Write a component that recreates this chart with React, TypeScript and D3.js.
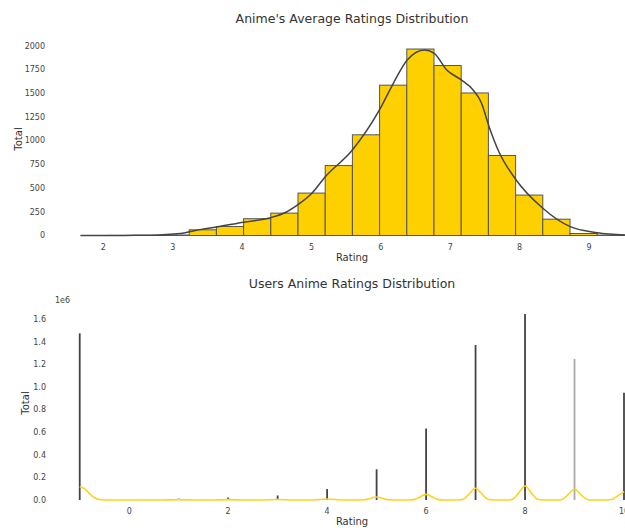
import React from 'react';
import * as d3 from 'd3';

// Top histogram: anime average ratings (20 bins starting at 1.67, width 0.392)
const binStart = 1.67;
const binWidth = 0.392;
const animeCounts = [0, 1, 2, 5, 60, 95, 177, 236, 447, 737, 1061, 1584, 1965, 1791, 1502, 843, 426, 172, 21, 4];

// KDE curve: [rating, density scaled to counts]
const animeKde: [number, number][] = [
  [1.67, 0], [2.3, 1], [2.68, 3], [3.11, 20], [3.39, 62], [3.63, 90], [4.02, 140],
  [4.41, 188], [4.64, 248], [4.84, 343], [5.0, 440], [5.2, 620], [5.59, 901],
  [5.98, 1323], [6.18, 1604], [6.38, 1850], [6.63, 1955], [6.77, 1920], [6.95, 1744],
  [7.16, 1639], [7.33, 1533], [7.45, 1397], [7.56, 1147], [7.71, 869], [7.95, 585],
  [8.33, 290], [8.73, 93], [9.12, 30], [9.52, 5],
];

const animeXTicks = [2, 3, 4, 5, 6, 7, 8, 9];
const animeYTicks = [0, 250, 500, 750, 1000, 1250, 1500, 1750, 2000];

// Bottom histogram: user ratings (-1 = watched, not rated)
const userRatings = [-1, 1, 2, 3, 4, 5, 6, 7, 8, 9, 10];
const userCounts = [1.476e6, 0.012e6, 0.022e6, 0.04e6, 0.097e6, 0.272e6, 0.632e6, 1.372e6, 1.647e6, 1.249e6, 0.95e6];

const userKde: [number, number][] = [
  [-1, 0.118e6], [-0.9, 0.1e6], [-0.8, 0.055e6], [-0.7, 0.02e6], [-0.6, 0.004e6], [-0.5, 0],
  [0.65, 0], [1, 0.002e6], [1.35, 0], [1.65, 0], [2, 0.003e6], [2.35, 0], [2.65, 0], [3, 0.005e6], [3.35, 0],
  [3.65, 0], [4, 0.009e6], [4.35, 0],
  [4.65, 0], [4.75, 0.002e6], [4.85, 0.011e6], [5, 0.026e6], [5.15, 0.011e6], [5.25, 0.002e6], [5.35, 0],
  [5.65, 0], [5.75, 0.003e6], [5.85, 0.021e6], [6, 0.05e6], [6.15, 0.021e6], [6.25, 0.003e6], [6.35, 0],
  [6.65, 0], [6.75, 0.006e6], [6.85, 0.043e6], [7, 0.104e6], [7.15, 0.043e6], [7.25, 0.006e6], [7.35, 0],
  [7.65, 0], [7.75, 0.007e6], [7.85, 0.05e6], [8, 0.124e6], [8.15, 0.05e6], [8.25, 0.007e6], [8.35, 0],
  [8.65, 0], [8.75, 0.005e6], [8.85, 0.039e6], [9, 0.095e6], [9.15, 0.039e6], [9.25, 0.005e6], [9.35, 0],
  [9.65, 0], [9.75, 0.004e6], [9.85, 0.03e6], [10, 0.074e6],
];

const userXTicks = [0, 2, 4, 6, 8, 10];
const userYTicks = [0, 0.2e6, 0.4e6, 0.6e6, 0.8e6, 1.0e6, 1.2e6, 1.4e6, 1.6e6];

const font = "'DejaVu Sans', sans-serif";
const textColor = '#333';
const gold = '#FFD000';

const App: React.FC = () => {
  // top chart scales
  const x1 = d3.scaleLinear().domain([2, 9]).range([103.3, 589]);
  const y1 = d3.scaleLinear().domain([0, 2000]).range([235.5, 45.7]);
  const kdeLine1 = d3.line<[number, number]>()
    .x(d => x1(d[0]))
    .y(d => y1(d[1]))
    .curve(d3.curveMonotoneX);

  // bottom chart scales
  const x2 = d3.scaleLinear().domain([0, 10]).range([129.2, 624]);
  const y2 = d3.scaleLinear().domain([0, 1.6e6]).range([500, 319.3]);
  const kdeLine2 = d3.line<[number, number]>()
    .x(d => x2(d[0]))
    .y(d => y2(d[1]))
    .curve(d3.curveMonotoneX);

  return (
    <div style={{ position: 'fixed', left: 0, top: 0 }}>
      <svg width={625} height={528} style={{ display: 'block', background: '#fff' }} fontFamily={font}>
        {/* ---------- top chart ---------- */}
        <text x={352} y={23} textAnchor="middle" fontSize={12.5} fill={textColor}>
          Anime's Average Ratings Distribution
        </text>
        {animeYTicks.map(t => (
          <text key={t} x={45} y={y1(t)} dy="0.35em" textAnchor="end" fontSize={8} fill="#444">{t}</text>
        ))}
        {animeXTicks.map(t => (
          <text key={t} x={x1(t)} y={247} dy="0.35em" textAnchor="middle" fontSize={8} fill="#444">{t}</text>
        ))}
        <text x={352} y={257.5} dy="0.35em" textAnchor="middle" fontSize={10} fill={textColor}>Rating</text>
        <text transform={`translate(18,139) rotate(-90)`} dy="0.35em" textAnchor="middle" fontSize={10} fill={textColor}>Total</text>
        {animeCounts.map((c, i) => {
          const a = binStart + i * binWidth;
          const b = a + binWidth;
          if (c <= 0) return null;
          return (
            <rect key={i} x={x1(a)} y={y1(c)} width={x1(b) - x1(a)} height={y1(0) - y1(c)}
              fill={gold} stroke="#555" strokeWidth={1} />
          );
        })}
        <path d={kdeLine1(animeKde) ?? ''} fill="none" stroke="#444" strokeWidth={1.5} />

        {/* ---------- bottom chart ---------- */}
        <text x={352} y={288} textAnchor="middle" fontSize={12.5} fill={textColor}>
          Users Anime Ratings Distribution
        </text>
        <text x={55} y={300.5} dy="0.35em" fontSize={8} fill="#444">1e6</text>
        {userYTicks.map(t => (
          <text key={t} x={46} y={y2(t)} dy="0.35em" textAnchor="end" fontSize={8} fill="#444">{(t / 1e6).toFixed(1)}</text>
        ))}
        {userXTicks.map(t => (
          <text key={t} x={x2(t)} y={511.5} dy="0.35em" textAnchor="middle" fontSize={8} fill="#444">{t}</text>
        ))}
        <text x={352} y={521.5} dy="0.35em" textAnchor="middle" fontSize={10} fill={textColor}>Rating</text>
        <text transform={`translate(25,403) rotate(-90)`} dy="0.35em" textAnchor="middle" fontSize={10} fill={textColor}>Total</text>
        {userRatings.map((r, i) => (
          <line key={r} x1={x2(r)} x2={x2(r)} y1={y2(0)} y2={y2(userCounts[i])}
            stroke={r === 9 ? '#aaa' : '#444'} strokeWidth={1.8} />
        ))}
        <path d={kdeLine2(userKde) ?? ''} fill="none" stroke="#FFD21F" strokeWidth={1.6} />
      </svg>
    </div>
  );
};

export default App;
